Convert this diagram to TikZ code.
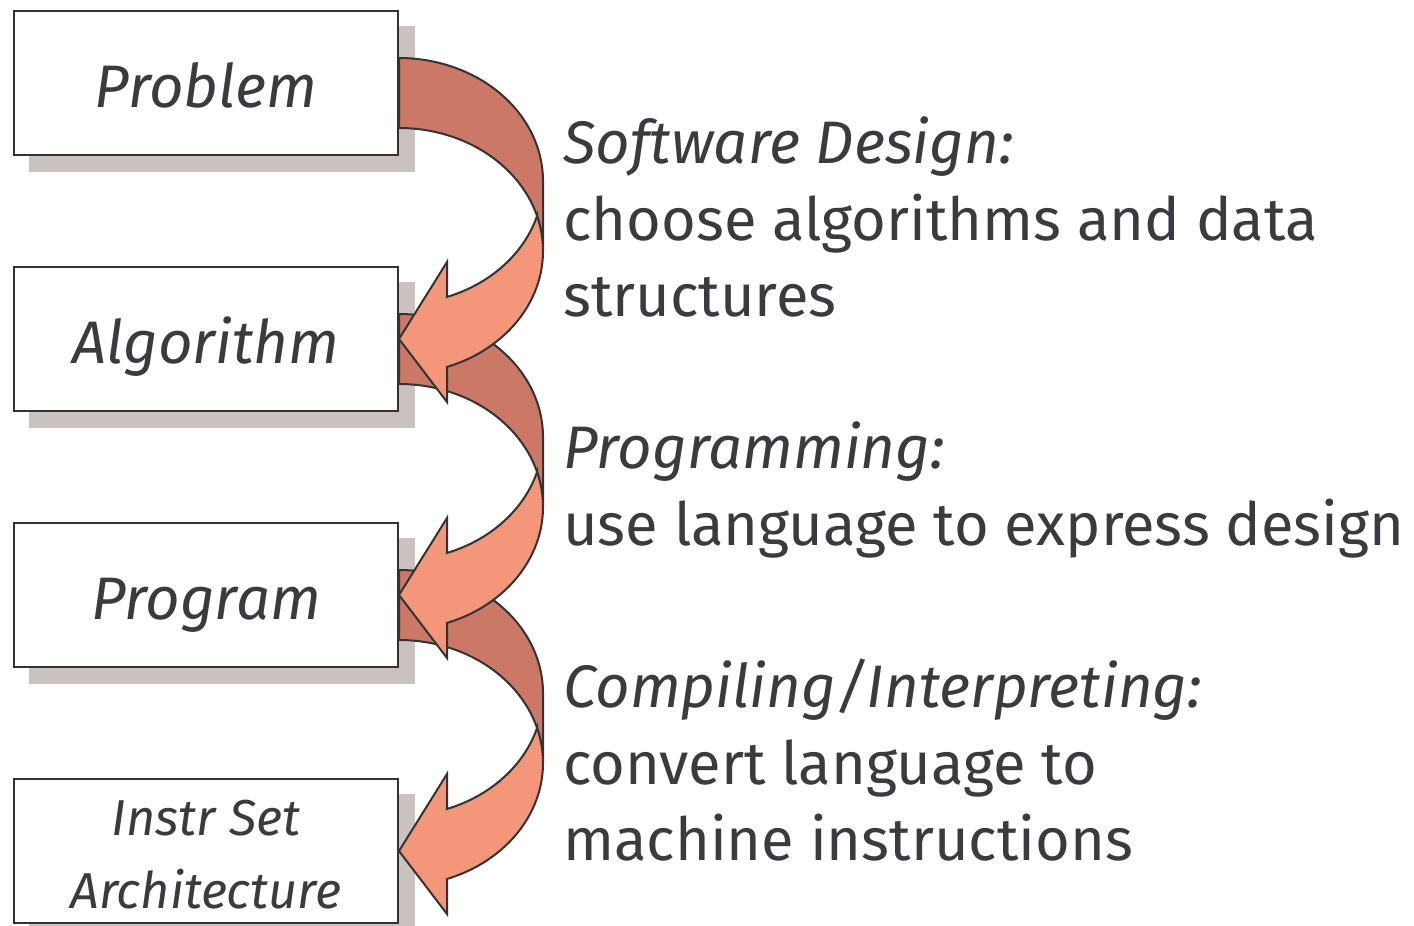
\documentclass[tikz,border=0pt]{standalone}
\usepackage{fontspec}
\setmainfont{Fira Sans}
\usetikzlibrary{backgrounds}
\definecolor{bandDark}{RGB}{203,120,102}
\definecolor{bandLight}{RGB}{244,150,122}
\definecolor{shadowc}{RGB}{201,194,191}
\definecolor{linec}{RGB}{51,51,51}
\definecolor{textc}{RGB}{58,58,63}
\tikzset{
  boxnode/.style={draw=linec, line width=2pt, fill=white, minimum width=384pt, minimum height=144pt, inner sep=0pt},
  boxlabel/.style={text=textc, inner sep=0pt, anchor=base, font=\fontsize{60}{72}\selectfont\itshape},
  smalllabel/.style={text=textc, inner sep=0pt, anchor=base, font=\fontsize{50.5}{60}\selectfont\itshape},
  headtext/.style={text=textc, inner sep=0pt, anchor=base west, font=\fontsize{60}{72}\selectfont\itshape},
  bodytext/.style={text=textc, inner sep=0pt, anchor=base west, font=\fontsize{59.6}{72}\selectfont},
  darkband/.style={fill=bandDark, draw=linec, line width=2pt, line join=miter},
  lightband/.style={fill=bandLight, draw=linec, line width=2pt, line join=miter},
}
\newcommand{\curvedarr}[1]{%
  \begin{scope}[shift={(#1.north east)}]
    \filldraw[darkband] plot[domain=-90:0,samples=60] ({144*cos(\x)},{171+123*sin(\x)})
      -- plot[domain=0:-90,samples=60] ({144*cos(\x)},{241+123*sin(\x)}) -- cycle;
    \filldraw[lightband] plot[domain=16.5:70.53,samples=50] ({144*cos(\x)},{171+123*sin(\x)})
      -- (48,252) -- (0,329) -- (48,392)
      -- plot[domain=70.53:-16.5,samples=60] ({144*cos(\x)},{241+123*sin(\x)}) -- cycle;
  \end{scope}}
\begin{document}
\begin{tikzpicture}[x=1pt,y=-1pt]
\useasboundingbox (0,0) rectangle (1414,926);
% boxes
\node[boxnode] (prob) at (206,83) {};
\node[boxnode] (algo) at (206,339) {};
\node[boxnode] (prog) at (206,595) {};
\node[boxnode] (isa) at (206,851) {};
\begin{scope}[on background layer]
  \foreach \b in {prob,algo,prog,isa}
    \fill[shadowc] ([shift={(16,16)}]\b.north west) rectangle ([shift={(16,16)}]\b.south east);
\end{scope}
% box labels
\node[boxlabel] (lprob) at (206,107) {Problem};
\node[boxlabel] (lalgo) at (206,363) {Algorithm};
\node[boxlabel] (lprog) at (206,619) {Program};
\node[smalllabel] (lisa1) at (206,835) {Instr Set};
\node[smalllabel] (lisa2) at (206,908) {Architecture};
% curved arrows, bottom first
\curvedarr{prog}
\curvedarr{algo}
\curvedarr{prob}
% right-hand text
\node[headtext] (h1) at (563,163) {Software Design:};
\node[bodytext] (b1a) at (563,240) {choose algorithms and data};
\node[bodytext] (b1b) at (563,316) {structures};
\node[headtext] (h2) at (563,468) {Programming:};
\node[bodytext] (b2a) at (563,545) {use language to express design};
\node[headtext] (h3) at (563,707) {Compiling/Interpreting:};
\node[bodytext] (b3a) at (563,784) {convert language to};
\node[bodytext] (b3b) at (563,860) {machine instructions};
\end{tikzpicture}
\end{document}
